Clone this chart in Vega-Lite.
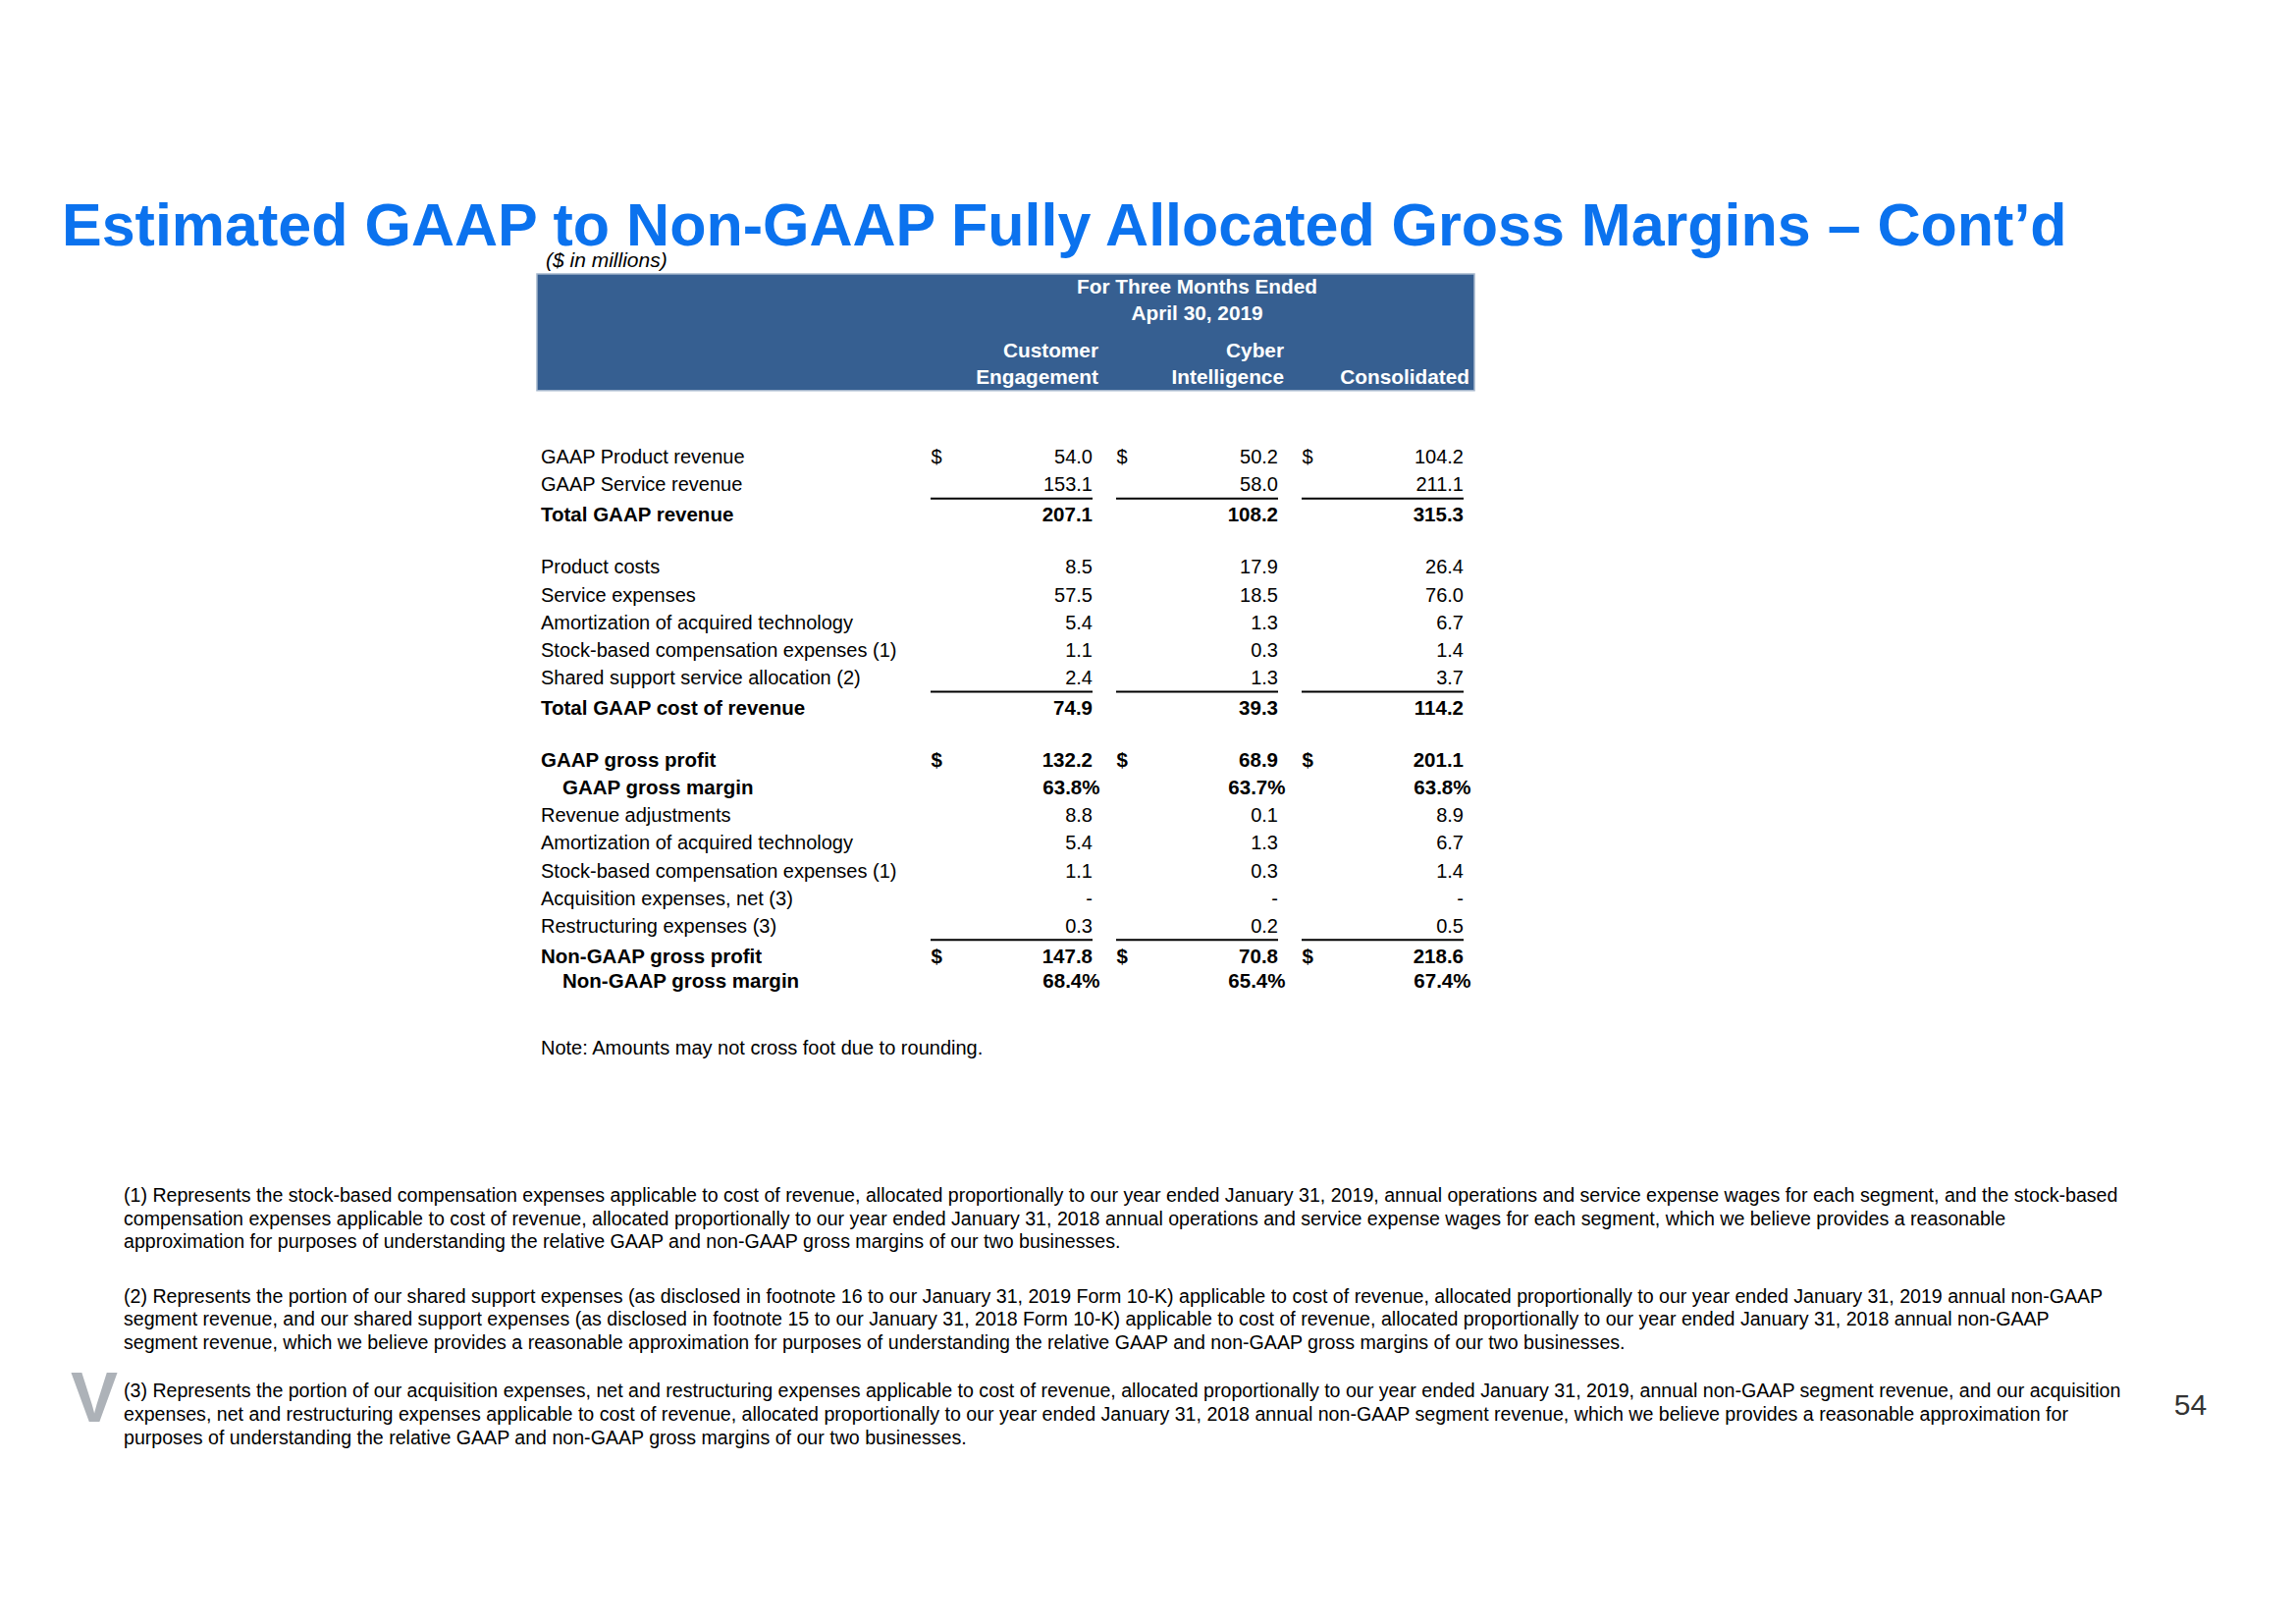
{
  "$schema": "https://vega.github.io/schema/vega-lite/v6.json",
  "width": 2339,
  "height": 1654,
  "padding": 0,
  "autosize": {"type": "none"},
  "background": "white",
  "config": {"view": {"stroke": null}, "text": {"font": "Liberation Sans"}},
  "datasets": {
    "rows": [
      {"line": 1, "label": "GAAP Product revenue", "kind": "item", "currency": "$", "CE": "54.0", "CI": "50.2", "Cons": "104.2"},
      {"line": 2, "label": "GAAP Service revenue", "kind": "item", "currency": "", "CE": "153.1", "CI": "58.0", "Cons": "211.1"},
      {"line": 3, "label": "Total GAAP revenue", "kind": "subtotal", "currency": "", "CE": "207.1", "CI": "108.2", "Cons": "315.3"},
      {"line": 5, "label": "Product costs", "kind": "item", "currency": "", "CE": "8.5", "CI": "17.9", "Cons": "26.4"},
      {"line": 6, "label": "Service expenses", "kind": "item", "currency": "", "CE": "57.5", "CI": "18.5", "Cons": "76.0"},
      {"line": 7, "label": "Amortization of acquired technology", "kind": "item", "currency": "", "CE": "5.4", "CI": "1.3", "Cons": "6.7"},
      {"line": 8, "label": "Stock-based compensation expenses (1)", "kind": "item", "currency": "", "CE": "1.1", "CI": "0.3", "Cons": "1.4"},
      {"line": 9, "label": "Shared support service allocation (2)", "kind": "item", "currency": "", "CE": "2.4", "CI": "1.3", "Cons": "3.7"},
      {"line": 10, "label": "Total GAAP cost of revenue", "kind": "subtotal", "currency": "", "CE": "74.9", "CI": "39.3", "Cons": "114.2"},
      {"line": 12, "label": "GAAP gross profit", "kind": "profit", "currency": "$", "CE": "132.2", "CI": "68.9", "Cons": "201.1"},
      {"line": 13, "label": "GAAP gross margin", "kind": "margin", "currency": "", "CE": "63.8%", "CI": "63.7%", "Cons": "63.8%"},
      {"line": 14, "label": "Revenue adjustments", "kind": "item", "currency": "", "CE": "8.8", "CI": "0.1", "Cons": "8.9"},
      {"line": 15, "label": "Amortization of acquired technology", "kind": "item", "currency": "", "CE": "5.4", "CI": "1.3", "Cons": "6.7"},
      {"line": 16, "label": "Stock-based compensation expenses (1)", "kind": "item", "currency": "", "CE": "1.1", "CI": "0.3", "Cons": "1.4"},
      {"line": 17, "label": "Acquisition expenses, net (3)", "kind": "item", "currency": "", "CE": "-\u00a0\u00a0\u00a0\u00a0", "CI": "-\u00a0\u00a0\u00a0\u00a0", "Cons": "-\u00a0\u00a0\u00a0\u00a0"},
      {"line": 18, "label": "Restructuring expenses (3)", "kind": "item", "currency": "", "CE": "0.3", "CI": "0.2", "Cons": "0.5"},
      {"line": 19, "label": "Non-GAAP gross profit", "kind": "subtotal", "currency": "$", "CE": "147.8", "CI": "70.8", "Cons": "218.6"},
      {"line": 20, "label": "Non-GAAP gross margin", "kind": "margin", "currency": "", "CE": "68.4%", "CI": "65.4%", "Cons": "67.4%"}
    ],
    "segments": [
      {"segment": "CE", "line1": "Customer", "line2": "Engagement"},
      {"segment": "CI", "line1": "Cyber", "line2": "Intelligence"},
      {"segment": "Cons", "line1": "", "line2": "Consolidated"}
    ],
    "header": [
      {"period": "For Three Months Ended\nApril 30, 2019"}
    ],
    "notes": [
      {"role": "title", "text": "Estimated GAAP to Non-GAAP Fully Allocated Gross Margins \u2013 Cont\u2019d"},
      {"role": "units", "text": "($ in millions)"},
      {"role": "note", "text": "Note: Amounts may not cross foot due to rounding."},
      {"role": "fn1", "text": "\u00a0(1) Represents the stock-based compensation expenses applicable to cost of revenue, allocated proportionally to our year ended January 31, 2019, annual operations and service expense wages for each segment, and the stock-based\ncompensation expenses applicable to cost of revenue, allocated proportionally to our year ended January 31, 2018 annual operations and service expense wages for each segment, which we believe provides a reasonable\napproximation for purposes of understanding the relative GAAP and non-GAAP gross margins of our two businesses."},
      {"role": "fn2", "text": "(2) Represents the portion of our shared support expenses (as disclosed in footnote 16 to our January 31, 2019 Form 10-K) applicable to cost of revenue, allocated proportionally to our year ended January 31, 2019 annual non-GAAP\nsegment revenue, and our shared support expenses (as disclosed in footnote 15 to our January 31, 2018 Form 10-K) applicable to cost of revenue, allocated proportionally to our year ended January 31, 2018 annual non-GAAP\nsegment revenue, which we believe provides a reasonable approximation for purposes of understanding the relative GAAP and non-GAAP gross margins of our two businesses."},
      {"role": "fn3", "text": "(3) Represents the portion of our acquisition expenses, net and restructuring expenses applicable to cost of revenue, allocated proportionally to our year ended January 31, 2019, annual non-GAAP segment revenue, and our acquisition\nexpenses, net and restructuring expenses applicable to cost of revenue, allocated proportionally to our year ended January 31, 2018 annual non-GAAP segment revenue, which we believe provides a reasonable approximation for\npurposes of understanding the relative GAAP and non-GAAP gross margins of our two businesses."},
      {"role": "page", "text": "54"},
      {"role": "logo", "text": "V"}
    ]
  },
  "resolve": {"scale": {"x": "independent", "y": "independent"}},
  "layer": [
    {
      "data": {"name": "header"},
      "mark": {"type": "rect", "fill": "#365f91", "stroke": "#a3b5cb", "strokeWidth": 1.5},
      "encoding": {
        "x": {"datum": 23.386, "type": "quantitative", "scale": {"domain": [0, 100], "nice": false, "zero": false}, "axis": null},
        "x2": {"datum": 64.215},
        "y": {"datum": 16.868, "type": "quantitative", "scale": {"domain": [0, 100], "reverse": true, "nice": false, "zero": false}, "axis": null},
        "y2": {"datum": 24.045}
      }
    },
    {
      "data": {"name": "header"},
      "mark": {"type": "text", "align": "center", "baseline": "middle", "lineBreak": "\n", "lineHeight": 26.7, "fontSize": 20.8, "fontWeight": "bold", "color": "#ffffff"},
      "encoding": {
        "x": {"datum": 52.14, "type": "quantitative", "scale": {"domain": [0, 100], "nice": false, "zero": false}, "axis": null},
        "y": {"datum": 17.715, "type": "quantitative", "scale": {"domain": [0, 100], "reverse": true, "nice": false, "zero": false}, "axis": null},
        "text": {"field": "period"}
      }
    },
    {
      "data": {"name": "segments"},
      "mark": {"type": "text", "align": "right", "baseline": "middle", "dx": 88.5, "fontSize": 20.8, "fontWeight": "bold", "color": "#ffffff"},
      "encoding": {
        "x": {"field": "segment", "type": "nominal", "scale": {"type": "band", "domain": ["CE", "CI", "Cons"], "range": [948, 1491], "paddingInner": 0.127, "paddingOuter": 0}, "axis": null},
        "y": {"datum": 21.66, "type": "quantitative", "scale": {"domain": [0, 100], "reverse": true, "nice": false, "zero": false}, "axis": null},
        "text": {"field": "line1"}
      }
    },
    {
      "data": {"name": "segments"},
      "mark": {"type": "text", "align": "right", "baseline": "middle", "dx": 88.5, "fontSize": 20.8, "fontWeight": "bold", "color": "#ffffff"},
      "encoding": {
        "x": {"field": "segment", "type": "nominal", "scale": {"type": "band", "domain": ["CE", "CI", "Cons"], "range": [948, 1491], "paddingInner": 0.127, "paddingOuter": 0}, "axis": null},
        "y": {"datum": 23.28, "type": "quantitative", "scale": {"domain": [0, 100], "reverse": true, "nice": false, "zero": false}, "axis": null},
        "text": {"field": "line2"}
      }
    },
    {
      "data": {"name": "rows"},
      "transform": [{"filter": {"field": "kind", "equal": "item"}}],
      "mark": {"type": "text", "align": "left", "baseline": "middle", "fontSize": 20, "color": "#000000"},
      "encoding": {
        "x": {"datum": 23.557, "type": "quantitative", "scale": {"domain": [0, 100], "nice": false, "zero": false}, "axis": null},
        "y": {"field": "line", "type": "quantitative", "scale": {"domain": [-15.584, 43.277], "reverse": true, "nice": false, "zero": false}, "axis": null},
        "text": {"field": "label"}
      }
    },
    {
      "data": {"name": "rows"},
      "transform": [{"filter": {"field": "kind", "equal": "profit"}}],
      "mark": {"type": "text", "align": "left", "baseline": "middle", "fontSize": 20.5, "fontWeight": "bold", "color": "#000000"},
      "encoding": {
        "x": {"datum": 23.557, "type": "quantitative", "scale": {"domain": [0, 100], "nice": false, "zero": false}, "axis": null},
        "y": {"field": "line", "type": "quantitative", "scale": {"domain": [-15.584, 43.277], "reverse": true, "nice": false, "zero": false}, "axis": null},
        "text": {"field": "label"}
      }
    },
    {
      "data": {"name": "rows"},
      "transform": [{"filter": {"field": "kind", "equal": "subtotal"}}],
      "mark": {"type": "text", "align": "left", "baseline": "middle", "yOffset": 3, "fontSize": 20.5, "fontWeight": "bold", "color": "#000000"},
      "encoding": {
        "x": {"datum": 23.557, "type": "quantitative", "scale": {"domain": [0, 100], "nice": false, "zero": false}, "axis": null},
        "y": {"field": "line", "type": "quantitative", "scale": {"domain": [-15.584, 43.277], "reverse": true, "nice": false, "zero": false}, "axis": null},
        "text": {"field": "label"}
      }
    },
    {
      "data": {"name": "rows"},
      "transform": [{"filter": {"field": "kind", "equal": "margin"}}],
      "mark": {"type": "text", "align": "left", "baseline": "middle", "fontSize": 20.5, "fontWeight": "bold", "color": "#000000"},
      "encoding": {
        "x": {"datum": 24.498, "type": "quantitative", "scale": {"domain": [0, 100], "nice": false, "zero": false}, "axis": null},
        "y": {"field": "line", "type": "quantitative", "scale": {"domain": [-15.584, 43.277], "reverse": true, "nice": false, "zero": false}, "axis": null},
        "text": {"field": "label"}
      }
    },
    {
      "data": {"name": "rows"},
      "transform": [{"filter": {"field": "kind", "equal": "item"}}, {"fold": ["CE", "CI", "Cons"], "as": ["segment", "value"]}],
      "mark": {"type": "text", "align": "right", "baseline": "middle", "dx": 82.5, "fontSize": 20, "color": "#000000"},
      "encoding": {
        "x": {"field": "segment", "type": "nominal", "scale": {"type": "band", "domain": ["CE", "CI", "Cons"], "range": [948, 1491], "paddingInner": 0.127, "paddingOuter": 0}, "axis": null},
        "y": {"field": "line", "type": "quantitative", "scale": {"domain": [-15.584, 43.277], "reverse": true, "nice": false, "zero": false}, "axis": null},
        "text": {"field": "value"}
      }
    },
    {
      "data": {"name": "rows"},
      "transform": [{"filter": {"field": "kind", "equal": "profit"}}, {"fold": ["CE", "CI", "Cons"], "as": ["segment", "value"]}],
      "mark": {"type": "text", "align": "right", "baseline": "middle", "dx": 82.5, "fontSize": 20.5, "fontWeight": "bold", "color": "#000000"},
      "encoding": {
        "x": {"field": "segment", "type": "nominal", "scale": {"type": "band", "domain": ["CE", "CI", "Cons"], "range": [948, 1491], "paddingInner": 0.127, "paddingOuter": 0}, "axis": null},
        "y": {"field": "line", "type": "quantitative", "scale": {"domain": [-15.584, 43.277], "reverse": true, "nice": false, "zero": false}, "axis": null},
        "text": {"field": "value"}
      }
    },
    {
      "data": {"name": "rows"},
      "transform": [{"filter": {"field": "kind", "equal": "subtotal"}}, {"fold": ["CE", "CI", "Cons"], "as": ["segment", "value"]}],
      "mark": {"type": "text", "align": "right", "baseline": "middle", "dx": 82.5, "yOffset": 3, "fontSize": 20.5, "fontWeight": "bold", "color": "#000000"},
      "encoding": {
        "x": {"field": "segment", "type": "nominal", "scale": {"type": "band", "domain": ["CE", "CI", "Cons"], "range": [948, 1491], "paddingInner": 0.127, "paddingOuter": 0}, "axis": null},
        "y": {"field": "line", "type": "quantitative", "scale": {"domain": [-15.584, 43.277], "reverse": true, "nice": false, "zero": false}, "axis": null},
        "text": {"field": "value"}
      }
    },
    {
      "data": {"name": "rows"},
      "transform": [{"filter": {"field": "kind", "equal": "margin"}}, {"fold": ["CE", "CI", "Cons"], "as": ["segment", "value"]}],
      "mark": {"type": "text", "align": "right", "baseline": "middle", "dx": 90, "fontSize": 20.5, "fontWeight": "bold", "color": "#000000"},
      "encoding": {
        "x": {"field": "segment", "type": "nominal", "scale": {"type": "band", "domain": ["CE", "CI", "Cons"], "range": [948, 1491], "paddingInner": 0.127, "paddingOuter": 0}, "axis": null},
        "y": {"field": "line", "type": "quantitative", "scale": {"domain": [-15.584, 43.277], "reverse": true, "nice": false, "zero": false}, "axis": null},
        "text": {"field": "value"}
      }
    },
    {
      "data": {"name": "rows"},
      "transform": [{"filter": {"field": "currency", "equal": "$"}}, {"filter": {"field": "kind", "equal": "item"}}, {"fold": ["CE", "CI", "Cons"], "as": ["segment", "value"]}],
      "mark": {"type": "text", "align": "left", "baseline": "middle", "dx": -82, "fontSize": 20, "color": "#000000"},
      "encoding": {
        "x": {"field": "segment", "type": "nominal", "scale": {"type": "band", "domain": ["CE", "CI", "Cons"], "range": [948, 1491], "paddingInner": 0.127, "paddingOuter": 0}, "axis": null},
        "y": {"field": "line", "type": "quantitative", "scale": {"domain": [-15.584, 43.277], "reverse": true, "nice": false, "zero": false}, "axis": null},
        "text": {"field": "currency"}
      }
    },
    {
      "data": {"name": "rows"},
      "transform": [{"filter": {"field": "currency", "equal": "$"}}, {"filter": {"field": "kind", "equal": "profit"}}, {"fold": ["CE", "CI", "Cons"], "as": ["segment", "value"]}],
      "mark": {"type": "text", "align": "left", "baseline": "middle", "dx": -82, "fontSize": 20.5, "fontWeight": "bold", "color": "#000000"},
      "encoding": {
        "x": {"field": "segment", "type": "nominal", "scale": {"type": "band", "domain": ["CE", "CI", "Cons"], "range": [948, 1491], "paddingInner": 0.127, "paddingOuter": 0}, "axis": null},
        "y": {"field": "line", "type": "quantitative", "scale": {"domain": [-15.584, 43.277], "reverse": true, "nice": false, "zero": false}, "axis": null},
        "text": {"field": "currency"}
      }
    },
    {
      "data": {"name": "rows"},
      "transform": [{"filter": {"field": "currency", "equal": "$"}}, {"filter": {"field": "kind", "equal": "subtotal"}}, {"fold": ["CE", "CI", "Cons"], "as": ["segment", "value"]}],
      "mark": {"type": "text", "align": "left", "baseline": "middle", "dx": -82, "yOffset": 3, "fontSize": 20.5, "fontWeight": "bold", "color": "#000000"},
      "encoding": {
        "x": {"field": "segment", "type": "nominal", "scale": {"type": "band", "domain": ["CE", "CI", "Cons"], "range": [948, 1491], "paddingInner": 0.127, "paddingOuter": 0}, "axis": null},
        "y": {"field": "line", "type": "quantitative", "scale": {"domain": [-15.584, 43.277], "reverse": true, "nice": false, "zero": false}, "axis": null},
        "text": {"field": "currency"}
      }
    },
    {
      "data": {"name": "rows"},
      "transform": [{"filter": {"field": "kind", "equal": "subtotal"}}, {"fold": ["CE", "CI", "Cons"], "as": ["segment", "value"]}],
      "mark": {"type": "tick", "orient": "horizontal", "size": 165, "thickness": 2, "yOffset": -14.5, "color": "#000000", "opacity": 1},
      "encoding": {
        "x": {"field": "segment", "type": "nominal", "scale": {"type": "band", "domain": ["CE", "CI", "Cons"], "range": [948, 1491], "paddingInner": 0.127, "paddingOuter": 0}, "axis": null},
        "y": {"field": "line", "type": "quantitative", "scale": {"domain": [-15.584, 43.277], "reverse": true, "nice": false, "zero": false}, "axis": null}
      }
    },
    {
      "data": {"name": "notes"},
      "transform": [{"filter": {"field": "role", "equal": "title"}}],
      "mark": {"type": "text", "align": "left", "baseline": "alphabetic", "fontSize": 61, "fontWeight": "bold", "color": "#0b72ee"},
      "encoding": {
        "x": {"datum": 2.693, "type": "quantitative", "scale": {"domain": [0, 100], "nice": false, "zero": false}, "axis": null},
        "y": {"datum": 15.115, "type": "quantitative", "scale": {"domain": [0, 100], "reverse": true, "nice": false, "zero": false}, "axis": null},
        "text": {"field": "text"}
      }
    },
    {
      "data": {"name": "notes"},
      "transform": [{"filter": {"field": "role", "equal": "units"}}],
      "mark": {"type": "text", "align": "left", "baseline": "middle", "fontSize": 21, "fontStyle": "italic", "color": "#000000"},
      "encoding": {
        "x": {"datum": 23.77, "type": "quantitative", "scale": {"domain": [0, 100], "nice": false, "zero": false}, "axis": null},
        "y": {"datum": 16.08, "type": "quantitative", "scale": {"domain": [0, 100], "reverse": true, "nice": false, "zero": false}, "axis": null},
        "text": {"field": "text"}
      }
    },
    {
      "data": {"name": "notes"},
      "transform": [{"filter": {"field": "role", "equal": "note"}}],
      "mark": {"type": "text", "align": "left", "baseline": "middle", "fontSize": 20, "color": "#000000"},
      "encoding": {
        "x": {"datum": 23.557, "type": "quantitative", "scale": {"domain": [0, 100], "nice": false, "zero": false}, "axis": null},
        "y": {"datum": 64.59, "type": "quantitative", "scale": {"domain": [0, 100], "reverse": true, "nice": false, "zero": false}, "axis": null},
        "text": {"field": "text"}
      }
    },
    {
      "data": {"name": "notes"},
      "transform": [{"filter": {"field": "role", "equal": "fn1"}}],
      "mark": {"type": "text", "align": "left", "baseline": "middle", "lineBreak": "\n", "lineHeight": 23.7, "fontSize": 19.6, "color": "#000000"},
      "encoding": {
        "x": {"datum": 5.387, "type": "quantitative", "scale": {"domain": [0, 100], "nice": false, "zero": false}, "axis": null},
        "y": {"datum": 73.64, "type": "quantitative", "scale": {"domain": [0, 100], "reverse": true, "nice": false, "zero": false}, "axis": null},
        "text": {"field": "text"}
      }
    },
    {
      "data": {"name": "notes"},
      "transform": [{"filter": {"field": "role", "equal": "fn2"}}],
      "mark": {"type": "text", "align": "left", "baseline": "middle", "lineBreak": "\n", "lineHeight": 23.7, "fontSize": 19.6, "color": "#000000"},
      "encoding": {
        "x": {"datum": 5.387, "type": "quantitative", "scale": {"domain": [0, 100], "nice": false, "zero": false}, "axis": null},
        "y": {"datum": 79.85, "type": "quantitative", "scale": {"domain": [0, 100], "reverse": true, "nice": false, "zero": false}, "axis": null},
        "text": {"field": "text"}
      }
    },
    {
      "data": {"name": "notes"},
      "transform": [{"filter": {"field": "role", "equal": "fn3"}}],
      "mark": {"type": "text", "align": "left", "baseline": "middle", "lineBreak": "\n", "lineHeight": 23.7, "fontSize": 19.6, "color": "#000000"},
      "encoding": {
        "x": {"datum": 5.387, "type": "quantitative", "scale": {"domain": [0, 100], "nice": false, "zero": false}, "axis": null},
        "y": {"datum": 85.69, "type": "quantitative", "scale": {"domain": [0, 100], "reverse": true, "nice": false, "zero": false}, "axis": null},
        "text": {"field": "text"}
      }
    },
    {
      "data": {"name": "notes"},
      "transform": [{"filter": {"field": "role", "equal": "page"}}],
      "mark": {"type": "text", "align": "center", "baseline": "middle", "fontSize": 30, "color": "#333333"},
      "encoding": {
        "x": {"datum": 95.404, "type": "quantitative", "scale": {"domain": [0, 100], "nice": false, "zero": false}, "axis": null},
        "y": {"datum": 86.55, "type": "quantitative", "scale": {"domain": [0, 100], "reverse": true, "nice": false, "zero": false}, "axis": null},
        "text": {"field": "text"}
      }
    },
    {
      "data": {"name": "notes"},
      "transform": [{"filter": {"field": "role", "equal": "logo"}}],
      "mark": {"type": "text", "align": "center", "baseline": "alphabetic", "fontSize": 72, "fontWeight": "bold", "color": "#adb2b8"},
      "encoding": {
        "x": {"datum": 4.1, "type": "quantitative", "scale": {"domain": [0, 100], "nice": false, "zero": false}, "axis": null},
        "y": {"datum": 87.55, "type": "quantitative", "scale": {"domain": [0, 100], "reverse": true, "nice": false, "zero": false}, "axis": null},
        "text": {"field": "text"}
      }
    }
  ]
}
